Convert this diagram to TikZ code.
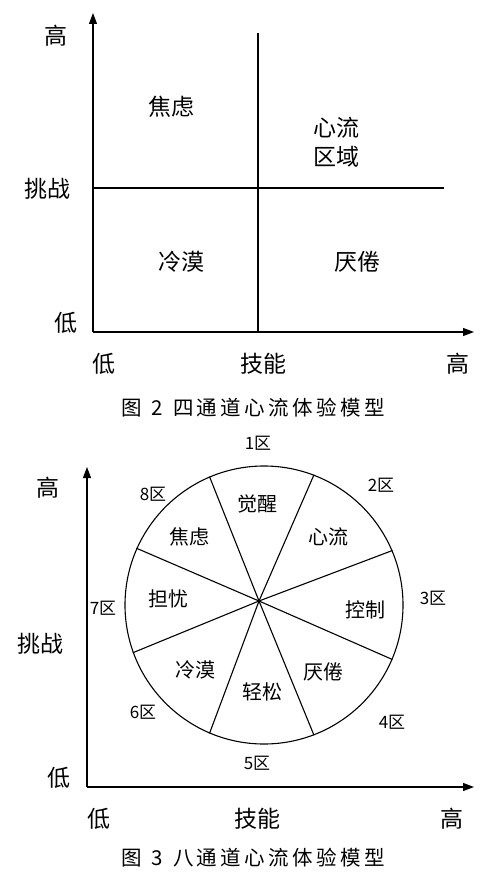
\documentclass[tikz,border=0pt]{standalone}
\usepackage{fontspec}
\setmainfont{Noto Sans CJK SC}
\usetikzlibrary{arrows.meta}

\begin{document}
\begin{tikzpicture}[
x=1pt, y=-1pt,
line/.style={line width=1.1pt},
axis/.style={line width=1.1pt, -{Triangle[length=11pt, width=8pt]}},
lbl/.style={font=\fontsize{23}{29}\selectfont, inner sep=0pt, align=center},
zone/.style={font=\fontsize{20}{20}\selectfont, inner sep=0pt},
num/.style={font=\fontsize{17}{17}\selectfont, inner sep=0pt},
caption/.style={font=\fontsize{20.5}{20.5}\selectfont, inner sep=0pt}
]
\useasboundingbox (0,0) rectangle (500,877);

% figure 2: four channels
\coordinate (o2) at (93,332);
\coordinate (y2) at (93,13);
\coordinate (x2) at (474,332);
\coordinate (vtop) at (258,33);
\coordinate (vbot) at (258,332);
\coordinate (hleft) at (93,188);
\coordinate (hright) at (444,188);
\draw[axis] (o2) -- (y2);
\draw[axis] (o2) -- (x2);
\draw[line] (vtop) -- (vbot);
\draw[line] (hleft) -- (hright);

\node[lbl] (hi2) at (56,36) {高};
\node[lbl] (ch2) at (47,189) {挑战};
\node[lbl] (lo2) at (66,323) {低};
\node[lbl] (slo2) at (104,364) {低};
\node[lbl] (sk2) at (263,364) {技能};
\node[lbl] (shi2) at (458,364) {高};
\node[lbl] (anx2) at (171,107) {焦虑};
\node[lbl] (flow2) at (336,142) {心流\\区域};
\node[lbl] (apa2) at (181,262) {冷漠};
\node[lbl] (bor2) at (357,262) {厌倦};
\node[caption] (cap2) at (253,408) {图\hspace{10pt}2\hspace{10pt}四\,通\,道\,心\,流\,体\,验\,模\,型};

% figure 3: eight channels
\coordinate (o3) at (87,787);
\coordinate (y3) at (87,467);
\coordinate (x3) at (474,787);
\draw[axis] (o3) -- (y3);
\draw[axis] (o3) -- (x3);

\node[circle, draw, line width=1.1pt, minimum size=278pt, inner sep=0pt] (wheel) at (264,605) {};
\coordinate (hub) at (259,601);
\foreach \a in {23.5,69.6,113.3,156.2,-23.5,-69.7,-113.3,-160}
  \draw[line] (hub) -- (wheel.\a);

\node[zone] (awa) at (257,504) {觉醒};
\node[zone] (flow3) at (328,537) {心流};
\node[zone] (ctl) at (365,610) {控制};
\node[zone] (bor3) at (323,672) {厌倦};
\node[zone] (rel) at (262,692) {轻松};
\node[zone] (apa3) at (195,670) {冷漠};
\node[zone] (wor) at (168,599) {担忧};
\node[zone] (anx3) at (189,537) {焦虑};

\node[num] (z1) at (258,443) {1区};
\node[num] (z2) at (381,485) {2区};
\node[num] (z3) at (433,598) {3区};
\node[num] (z4) at (392,722) {4区};
\node[num] (z5) at (257,763) {5区};
\node[num] (z6) at (143,712) {6区};
\node[num] (z7) at (103,608) {7区};
\node[num] (z8) at (153,494) {8区};

\node[lbl] (hi3) at (48,488) {高};
\node[lbl] (ch3) at (40,644) {挑战};
\node[lbl] (lo3) at (59,778) {低};
\node[lbl] (slo3) at (99,819) {低};
\node[lbl] (sk3) at (257,819) {技能};
\node[lbl] (shi3) at (452,819) {高};
\node[caption] (cap3) at (253,858) {图\hspace{10pt}3\hspace{10pt}八\,通\,道\,心\,流\,体\,验\,模\,型};
\end{tikzpicture}
\end{document}
